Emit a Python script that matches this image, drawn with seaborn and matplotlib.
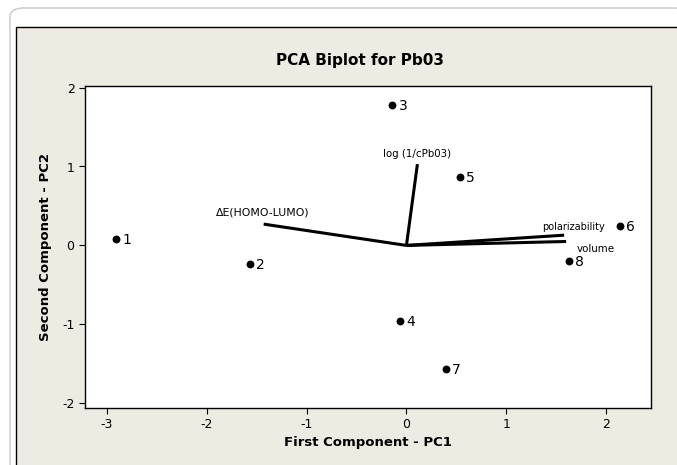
"""PCA biplot for Pb03 — scores and loadings (Minitab style)."""
import matplotlib.pyplot as plt
import pandas as pd
import seaborn as sns
from matplotlib.patches import FancyBboxPatch, Rectangle

# scores (observations)
OBS_LABELS = ["1", "2", "3", "4", "5", "6", "7", "8"]
PC1 = [-2.91, -1.57, -0.14, -0.06, 0.54, 2.14, 0.40, 1.63]
PC2 = [0.08, -0.23, 1.78, -0.96, 0.87, 0.25, -1.56, -0.20]

# loadings (variables)
VAR_NAMES = ["ΔE(HOMO-LUMO)", "log (1/cPb03)", "polarizability", "volume"]
LOAD1 = [-1.43, 0.11, 1.58, 1.60]
LOAD2 = [0.27, 1.03, 0.13, 0.05]

X_TICKS = [-3, -2, -1, 0, 1, 2]
Y_TICKS = [-2, -1, 0, 1, 2]

BEIGE = "#EEEBE2"

sns.set_theme(style="ticks")
plt.rcParams.update({
    "font.family": ["DejaVu Sans"],
    "axes.unicode_minus": False,
    "text.color": "black",
    "axes.labelcolor": "black",
    "xtick.color": "black",
    "ytick.color": "black",
})

fig = plt.figure(figsize=(6.77, 4.65), dpi=100)
fig.patch.set_facecolor("white")

# page frame + beige graph window (both run off the right/bottom edge)
fig.patches.append(FancyBboxPatch((10 / 677, -0.2), 1.0, 1 - 8 / 465 + 0.2,
                                  boxstyle="round,pad=0,rounding_size=0.02",
                                  transform=fig.transFigure, facecolor="white",
                                  edgecolor="#C8C8C8", lw=1.0, zorder=0))
fig.patches.append(Rectangle((16 / 677, -0.1), 1.0, 1 - 27 / 465 + 0.1,
                             transform=fig.transFigure, facecolor=BEIGE,
                             edgecolor="black", lw=1.0, zorder=0))

ax = fig.add_axes([85 / 677, 1 - 408 / 465, (651 - 85) / 677, (408 - 86) / 465])
ax.set_zorder(2)
ax.set_facecolor("white")

df = pd.DataFrame({"PC1": PC1, "PC2": PC2, "obs": OBS_LABELS})
sns.scatterplot(data=df, x="PC1", y="PC2", color="black", s=32,
                edgecolor="black", linewidth=0, ax=ax, zorder=3)
for x, y, lab in zip(PC1, PC2, OBS_LABELS):
    ax.annotate(lab, (x, y), xytext=(6, -1), textcoords="offset pixels",
                ha="left", va="center", fontsize=10)

load = pd.DataFrame({"v": VAR_NAMES, "l1": LOAD1, "l2": LOAD2})
for _, r in load.iterrows():
    ax.plot([0, r["l1"]], [0, r["l2"]], color="black", lw=2.2,
            solid_capstyle="butt", zorder=2)

# loading labels, placed as in the original
lab_style = [(-1, 12, "center", 7.8), (0, 10, "center", 7.4),
             (-22, 8, "left", 7), (11, -8, "left", 7.4)]
for name, l1, l2, (dx, dy, ha, fs) in zip(VAR_NAMES, LOAD1, LOAD2, lab_style):
    ax.annotate(name, (l1, l2), xytext=(dx, dy), textcoords="offset pixels",
                ha=ha, va="center", fontsize=fs)

ax.set_xlim(-3.22, 2.45)
ax.set_ylim(-2.06, 2.02)
ax.set_xticks(X_TICKS)
ax.set_yticks(Y_TICKS)
ax.tick_params(direction="out", length=4, width=0.8, labelsize=9)
for sp in ax.spines.values():
    sp.set_color("black")
    sp.set_linewidth(1.0)

ax.set_xlabel("First Component - PC1", fontsize=9.5, fontweight="bold", labelpad=3)
ax.set_ylabel("Second Component - PC2", fontsize=9.5, fontweight="bold", labelpad=7)
fig.text(360 / 677, 1 - 60 / 465, "PCA Biplot for Pb03", ha="center", va="center",
         fontsize=11, fontweight="bold")

fig.savefig("out.png", dpi=100, facecolor=fig.get_facecolor())
